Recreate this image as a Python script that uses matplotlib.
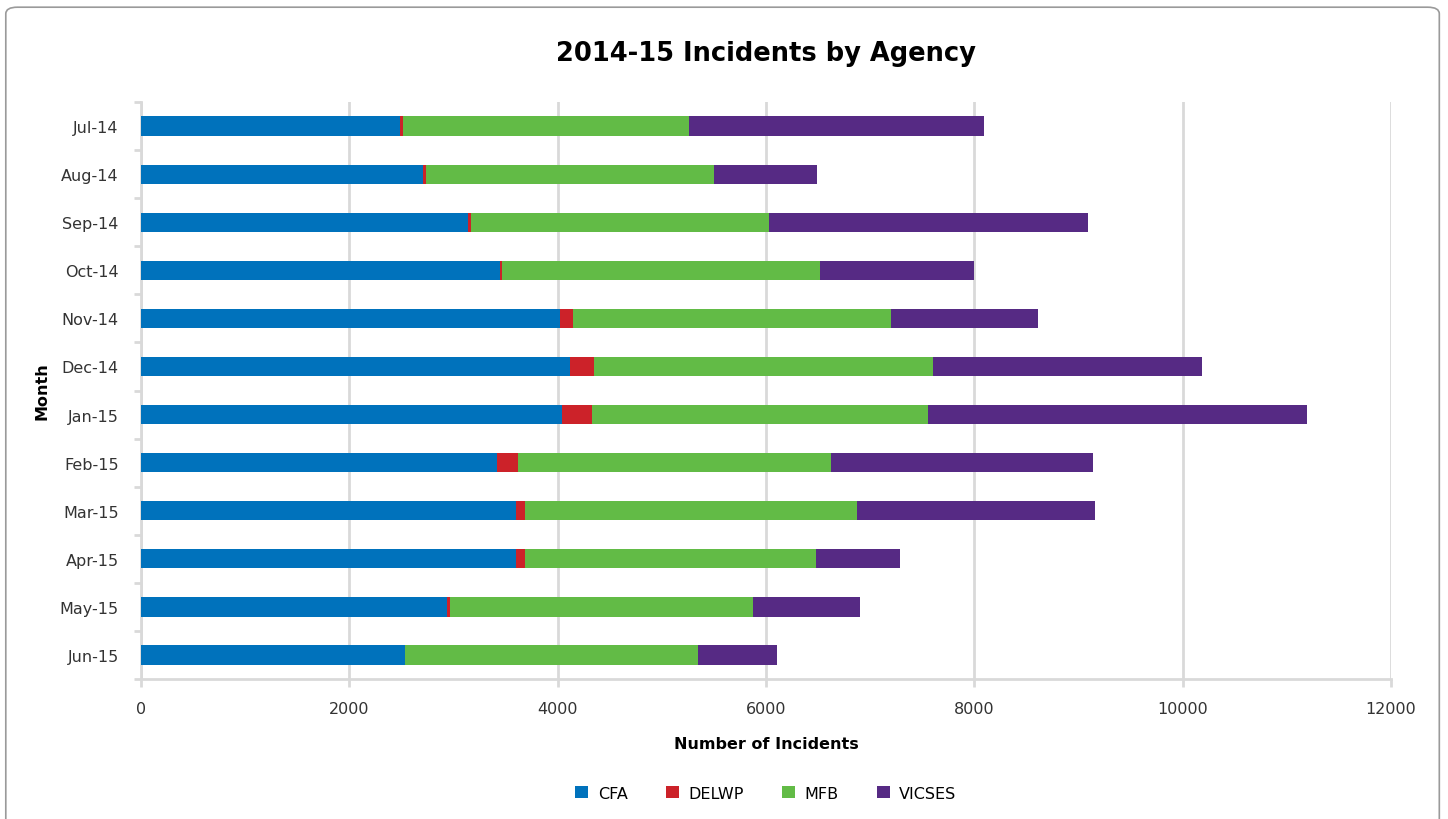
from matplotlib import pyplot as plt
from matplotlib.patches import FancyBboxPatch
import numpy as np

months = ["Jul-14", "Aug-14", "Sep-14", "Oct-14", "Nov-14", "Dec-14",
          "Jan-15", "Feb-15", "Mar-15", "Apr-15", "May-15", "Jun-15"]
cfa = [2486, 2710, 3139, 3446, 4022, 4118, 4041, 3420, 3600, 3600, 2937, 2534]
delwp = [29, 26, 29, 20, 125, 231, 288, 199, 86, 86, 29, 5]
mfb = [2746, 2765, 2861, 3052, 3053, 3254, 3226, 3005, 3187, 2794, 2909, 2808]
vicses = [2832, 988, 3062, 1479, 1411, 2582, 3638, 2515, 2285, 806, 1027, 758]

agencies = ["CFA", "DELWP", "MFB", "VICSES"]
colors = ["#0072BC", "#CC2229", "#62BB46", "#562A84"]

fig = plt.figure(figsize=(14.48, 8.2), dpi=100)
ax = fig.add_axes([0.0974, 0.1707, 0.8632, 0.7037])

# rounded frame around the chart
fig.patches.append(FancyBboxPatch((0.004, -0.05), 0.99, 1.04,
                                  boxstyle="round,pad=0,rounding_size=0.008",
                                  transform=fig.transFigure, fill=False,
                                  edgecolor="#9a9a9a", linewidth=1.2))

y = np.arange(len(months))
left = np.zeros(len(months))
for name, vals, c in zip(agencies, [cfa, delwp, mfb, vicses], colors):
    ax.barh(y, vals, left=left, height=0.4, color=c, label=name, zorder=3)
    left += np.array(vals)

ax.set_ylim(len(months) - 0.5, -0.5)
ax.set_yticks(y)
ax.set_yticklabels(months, fontsize=11.5, color="#333333")
ax.set_yticks(np.arange(-0.5, len(months)), minor=True)
ax.tick_params(axis="y", which="major", length=0, pad=16)
ax.tick_params(axis="y", which="minor", length=5, color="#d9d9d9", width=2)

ax.set_xlim(0, 12000)
ax.set_xticks(range(0, 12001, 2000))
ax.tick_params(axis="x", labelsize=11.5, colors="#333333", length=6,
               width=2, color="#d9d9d9", pad=10)
ax.grid(axis="x", color="#d9d9d9", linewidth=2, zorder=0)

for s in ["top", "right"]:
    ax.spines[s].set_visible(False)
for s in ["left", "bottom"]:
    ax.spines[s].set_color("#d9d9d9")
    ax.spines[s].set_linewidth(2)

ax.set_title("2014-15 Incidents by Agency", fontsize=18.5, fontweight="bold",
             pad=30)
ax.set_xlabel("Number of Incidents", fontsize=11.5, fontweight="bold",
              labelpad=14)
ax.set_ylabel("Month", fontsize=11.5, fontweight="bold", labelpad=7)

ax.legend(loc="upper center", bbox_to_anchor=(0.5, -0.16), ncol=4,
          frameon=False, fontsize=11.5, handlelength=0.8, handleheight=0.8,
          columnspacing=2.4, handletextpad=0.6)

plt.savefig("out.png", dpi=100)
